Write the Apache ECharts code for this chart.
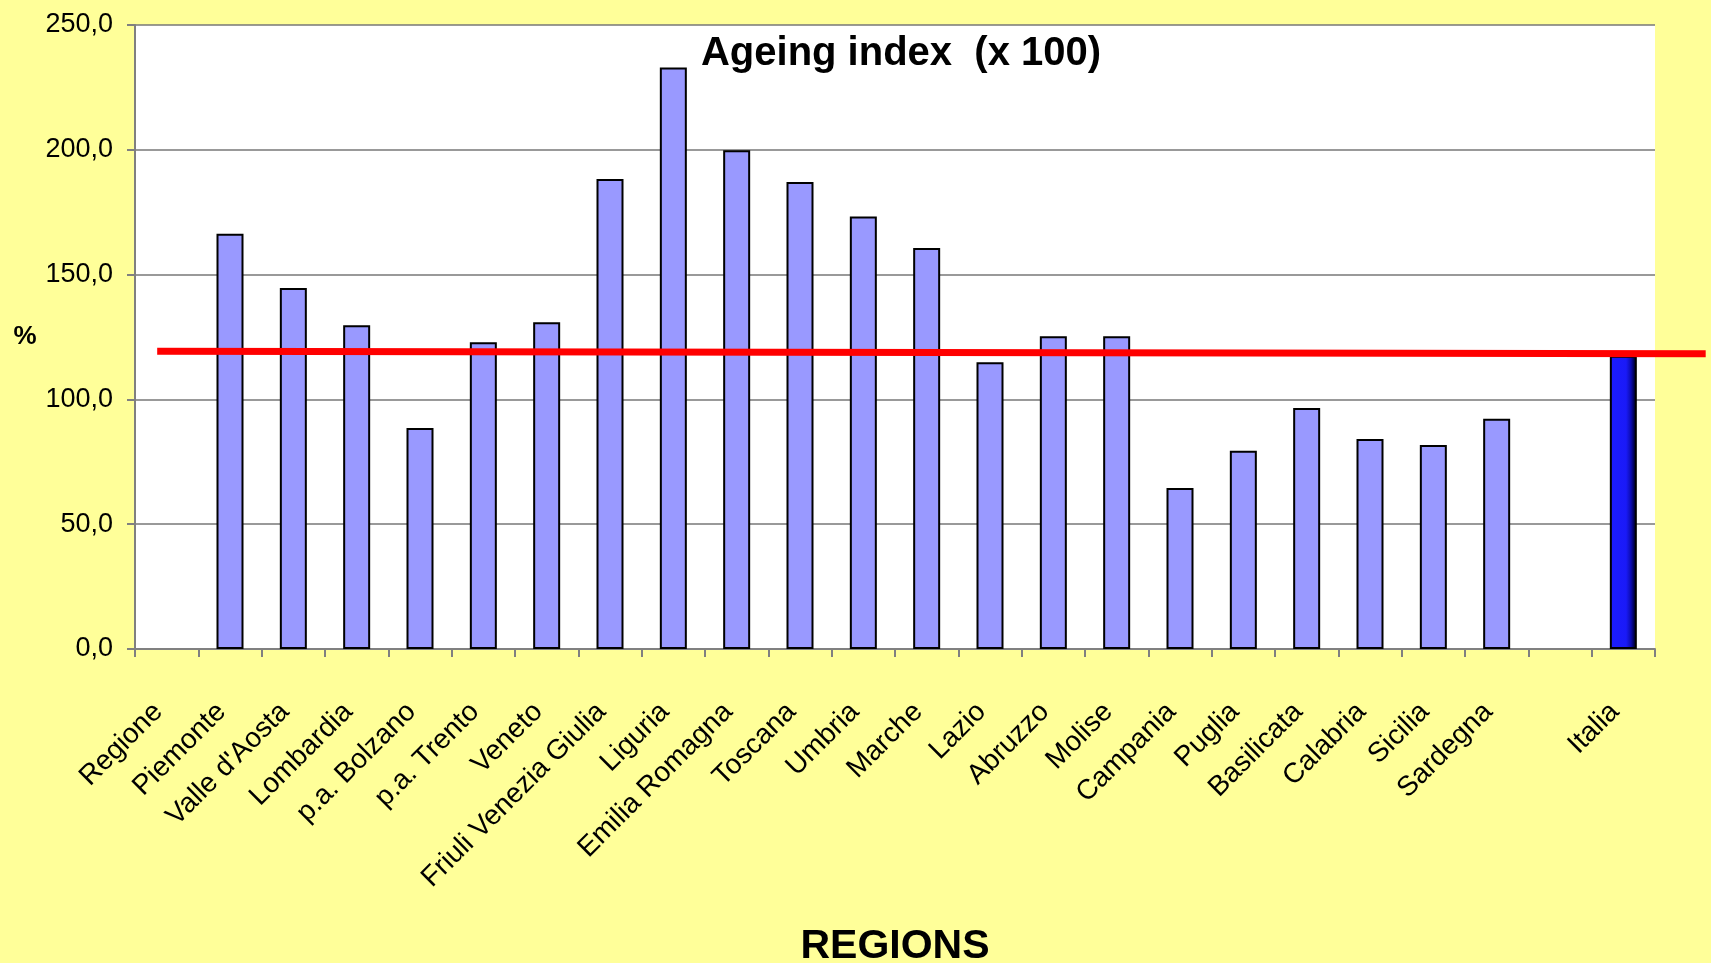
<!DOCTYPE html>
<html>
<head>
<meta charset="utf-8">
<title>Ageing index</title>
<script src="https://cdn.jsdelivr.net/npm/echarts@6/dist/echarts.min.js"></script>
<style>
  html, body { margin: 0; padding: 0; background: #ffff99; }
  #chart { width: 1711px; height: 963px; }
</style>
</head>
<body>
<div id="chart"></div>
<script>
// regioni (slot vuoto prima di Italia)
const regions = [
  'Regione', 'Piemonte', "Valle d'Aosta", 'Lombardia', 'p.a. Bolzano', 'p.a. Trento',
  'Veneto', 'Friuli Venezia Giulia', 'Liguria', 'Emilia Romagna', 'Toscana', 'Umbria',
  'Marche', 'Lazio', 'Abruzzo', 'Molise', 'Campania', 'Puglia', 'Basilicata',
  'Calabria', 'Sicilia', 'Sardegna', '', 'Italia'
]

// indice di vecchiaia (x 100)
const ageingIndex = [
  null, 166.4, 144.6, 129.7, 88.5, 122.9,
  130.9, 188.3, 233.0, 199.8, 187.1, 173.3,
  160.7, 114.9, 125.3, 125.3, 64.5, 79.4, 96.6,
  84.1, 81.7, 92.2, null, 117.5
]

// linea del valore nazionale: posizione in unità di categoria e valore
const avgLineX = [0.35, 24.8]
const avgLineY = [119.3, 118.3]

const yTicks = [0, 50, 100, 150, 200, 250]

const fontFamily = "'Liberation Sans', Arial, sans-serif"

// area del grafico
const W = 1711
const gridLeft = 135
const gridRight = 56
const gridTop = 25
const gridBottom = 314
// la linea rossa esce dall'area: secondo grid fino al bordo destro
const catWidth = (W - gridLeft - gridRight) / regions.length
const lineXMax = (W - gridLeft) / catWidth

const chart = echarts.init(document.getElementById('chart'))

const barData = ageingIndex.map((v, i) => {
  if (regions[i] !== 'Italia') return v
  return {
    value: v,
    itemStyle: {
      color: new echarts.graphic.LinearGradient(0, 0, 1, 0, [
        { offset: 0, color: '#1c1cff' },
        { offset: 0.6, color: '#1a1af8' },
        { offset: 0.78, color: '#0c0cb0' },
        { offset: 0.9, color: '#000050' },
        { offset: 1, color: '#000010' }
      ]),
      borderColor: '#000',
      borderWidth: 2
    }
  }
})

const option = {
  backgroundColor: '#ffff99',
  animation: false,
  title: {
    text: 'Ageing index  (x 100)',
    left: 896,
    top: 29,
    textAlign: 'center',
    textStyle: { fontFamily, fontSize: 40, fontWeight: 'bold', color: '#000' }
  },
  grid: [
    {
      left: gridLeft,
      right: gridRight,
      top: gridTop,
      bottom: gridBottom,
      outerBoundsMode: 'none',
      containLabel: false,
      show: true,
      backgroundColor: '#ffffff',
      borderWidth: 0
    },
    {
      left: gridLeft,
      right: 0,
      top: gridTop,
      bottom: gridBottom,
      outerBoundsMode: 'none',
      containLabel: false,
      show: false
    }
  ],
  xAxis: [
    {
      type: 'category',
      data: regions,
      boundaryGap: true,
      name: 'REGIONS',
      nameLocation: 'middle',
      nameGap: 277,
      nameTextStyle: { fontFamily, fontSize: 41, fontWeight: 'bold', color: '#000' },
      axisLine: { lineStyle: { color: '#808080', width: 2 } },
      axisTick: { show: true, length: 8, interval: 0, lineStyle: { color: '#808080', width: 2 } },
      axisLabel: {
        interval: 0,
        rotate: 45,
        margin: 50,
        padding: [0, 12, 0, 0],
        fontFamily,
        fontSize: 28,
        color: '#000'
      }
    },
    {
      type: 'value',
      gridIndex: 1,
      min: 0,
      max: lineXMax,
      show: false
    }
  ],
  yAxis: [
    {
      type: 'value',
      min: yTicks[0],
      max: yTicks[yTicks.length - 1],
      interval: 50,
      name: '%',
      nameLocation: 'middle',
      nameRotate: 0,
      nameGap: 110,
      nameTextStyle: { fontFamily, fontSize: 26, fontWeight: 'bold', color: '#000', align: 'center' },
      axisLine: { show: true, lineStyle: { color: '#808080', width: 2 } },
      axisTick: { show: true, length: 8, lineStyle: { color: '#808080', width: 2 } },
      axisLabel: {
        margin: 22,
        fontFamily,
        fontSize: 27,
        color: '#000',
        formatter: v => v.toFixed(1).replace('.', ',')
      },
      splitLine: { lineStyle: { color: '#777', width: 1.5 } }
    },
    {
      type: 'value',
      gridIndex: 1,
      min: yTicks[0],
      max: yTicks[yTicks.length - 1],
      show: false
    }
  ],
  series: [
    {
      name: 'Ageing index',
      type: 'bar',
      data: barData,
      barWidth: 27,
      itemStyle: { color: '#9999ff', borderColor: '#000', borderWidth: 2 }
    },
    {
      name: 'Italia',
      type: 'line',
      xAxisIndex: 1,
      yAxisIndex: 1,
      data: avgLineX.map((x, i) => [x, avgLineY[i]]),
      symbol: 'none',
      lineStyle: { color: '#ff0000', width: 7, cap: 'butt' },
      z: 5
    }
  ]
}

chart.setOption(option)
</script>
</body>
</html>
